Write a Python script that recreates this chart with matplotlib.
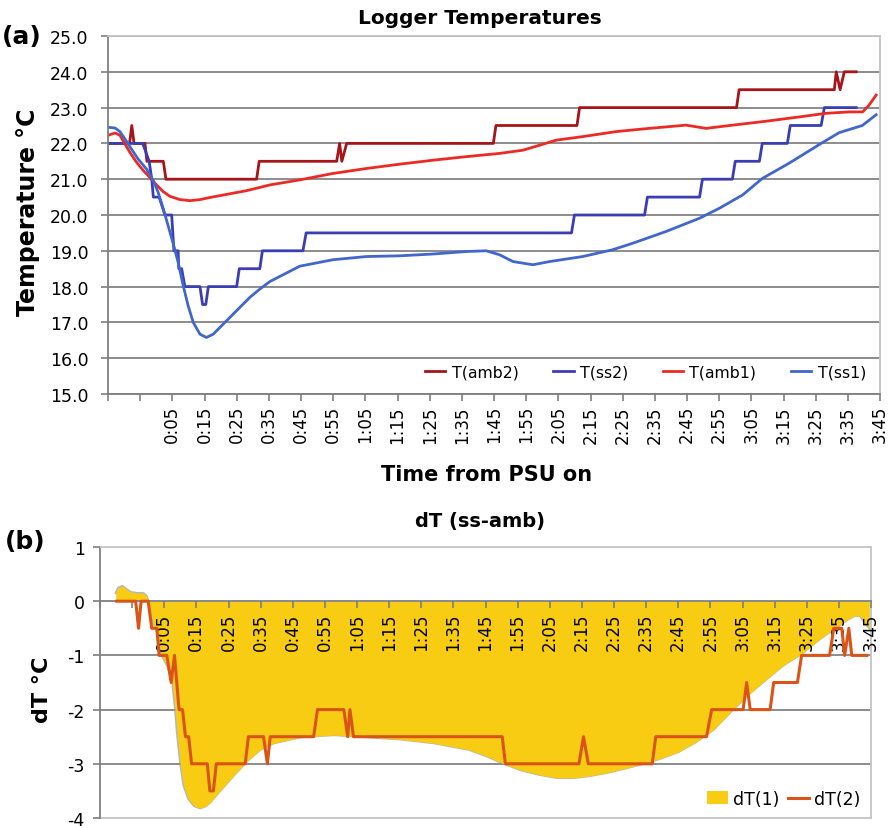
import matplotlib
matplotlib.use("Agg")
import matplotlib.pyplot as plt
from matplotlib.lines import Line2D
from matplotlib.patches import Patch

plt.rcParams['font.family'] = ['DejaVu Sans']
plt.rcParams['axes.unicode_minus'] = False

# ---------------- data (time in minutes from PSU on) ----------------
amb2_t = [-15, -8.3, -7.6, -6.9, -3.5, -2.9, 2.2, 3.0, 31.2, 32.0, 56.1, 57.0, 57.7, 59.2,
          104.8, 105.6, 130.8, 131.6, 180.4, 181.2, 210.8, 211.4, 212.6, 213.9, 217.6]
amb2_v = [22.0, 22.0, 22.5, 22.0, 22.0, 21.5, 21.5, 21.0, 21.0, 21.5, 21.5, 22.0, 21.5, 22.0,
          22.0, 22.5, 22.5, 23.0, 23.0, 23.5, 23.5, 24.0, 23.5, 24.0, 24.0]

ss2_t = [-15, -4.2, -2.2, -1.4, -0.9, 0.9, 2.7, 4.8, 5.5, 6.8, 7.0, 7.9, 8.9, 13.6, 14.4, 15.4,
         16.2, 25.0, 25.8, 32.2, 33.0, 45.6, 46.6, 129.1, 130.0, 151.8, 152.7, 168.9, 169.8,
         179.1, 180.0, 187.5, 188.4, 196.2, 197.1, 206.7, 207.7, 217.6]
ss2_v = [22.0, 22.0, 21.5, 21.0, 20.5, 20.5, 20.0, 20.0, 19.0, 19.0, 18.5, 18.5, 18.0, 18.0, 17.5, 17.5,
         18.0, 18.0, 18.5, 18.5, 19.0, 19.0, 19.5, 19.5, 20.0, 20.0, 20.5, 20.5, 21.0,
         21.0, 21.5, 21.5, 22.0, 22.0, 22.5, 22.5, 23.0, 23.0]

amb1_t = [-14.9, -12.8, -11.3, -9.7, -8.2, -6.1, -4.0, -2.0, 0.1, 2.2, 4.3, 7.4, 10.5, 13.6, 16.7,
          19.8, 23.9, 28.1, 32.2, 35.3, 44.6, 54.9, 65.4, 75.7, 86.0, 96.4, 106.7, 114.0, 119.2,
          124.3, 132.6, 143.0, 153.3, 164.7, 170.9, 179.2, 189.6, 199.9, 208.2, 215.4, 219.6,
          221.6, 223.8]
amb1_v = [22.23, 22.29, 22.23, 21.98, 21.75, 21.47, 21.24, 21.05, 20.84, 20.65, 20.52, 20.43, 20.40,
          20.43, 20.49, 20.54, 20.61, 20.68, 20.77, 20.84, 20.98, 21.16, 21.30, 21.42, 21.53, 21.63,
          21.72, 21.81, 21.95, 22.09, 22.19, 22.33, 22.42, 22.51, 22.42, 22.51, 22.62, 22.74, 22.84,
          22.88, 22.88, 23.07, 23.35]

ss1_t = [-14.9, -12.8, -11.3, -9.7, -7.7, -5.6, -3.0, -0.9, 0.6, 2.2, 3.7, 5.3, 6.8, 8.4, 9.9,
         11.5, 13.6, 15.6, 17.7, 19.8, 22.9, 26.0, 29.1, 32.2, 35.3, 44.6, 54.9, 65.4, 75.7, 86.0,
         96.4, 102.6, 106.7, 110.9, 117.1, 122.3, 132.6, 141.9, 148.1, 158.5, 168.9, 175.1, 182.3,
         188.4, 196.8, 206.7, 212.3, 219.5, 223.8]
ss1_v = [22.45, 22.43, 22.33, 22.12, 21.84, 21.56, 21.28, 20.96, 20.63, 20.17, 19.70, 19.19, 18.68,
         18.02, 17.47, 17.00, 16.67, 16.58, 16.67, 16.86, 17.14, 17.42, 17.70, 17.93, 18.14, 18.57,
         18.75, 18.84, 18.86, 18.91, 18.98, 19.00, 18.89, 18.70, 18.61, 18.70, 18.84, 19.03, 19.21,
         19.54, 19.91, 20.19, 20.56, 21.02, 21.45, 22.00, 22.30, 22.50, 22.80]

dT1_t = [-10.1, -9.3, -8.0, -6.7, -5.5, -3.5, -1.5, -0.5, 0.1, 1.5, 3.0, 4.2, 6.0, 7.5, 8.4, 9.0,
         10.0, 11.0, 12.5, 14.3, 16.2, 18.0, 19.5, 22.4, 26.6, 30.8, 34.9, 39.1, 47.4, 57.8, 68.2,
         78.6, 89.0, 99.8, 105.3, 110.7, 116.1, 121.6, 127.0, 132.5, 137.9, 143.3, 148.8, 154.2,
         159.7, 165.1, 170.5, 176.0, 181.4, 186.9, 192.3, 197.8, 203.4, 208.6, 213.8, 218.0, 220.0,
         221.6, 223.2, 224.5]
dT1_v = [0.15, 0.25, 0.28, 0.22, 0.17, 0.15, 0.15, 0.10, 0.0, -0.4, -0.6, -1.0, -1.2, -1.5, -2.0, -2.45,
         -3.0, -3.4, -3.65, -3.78, -3.82, -3.78, -3.70, -3.50, -3.22, -2.95, -2.74, -2.62, -2.51, -2.47,
         -2.51, -2.55, -2.62, -2.74, -2.86, -3.0, -3.12, -3.20, -3.26, -3.26, -3.22, -3.16, -3.08,
         -3.0, -2.90, -2.78, -2.60, -2.37, -2.04, -1.72, -1.45, -1.18, -0.97, -0.72, -0.50, -0.33,
         -0.27, -0.27, -0.42, -0.50]

dT2_t = [-9.8, -3.9, -3.0, -2.2, 0.0, 1.1, 2.7, 3.4, 5.8, 7.15, 8.2, 9.6, 10.7, 11.6, 12.6, 13.5,
         18.4, 19.2, 20.3, 21.2, 30.2, 31.2, 35.9, 37.1, 38.0, 51.5, 52.7, 60.9, 62.1, 62.8, 63.9,
         110.2, 111.2, 134.1, 135.5, 137.0, 156.9, 158.0, 173.8, 175.4, 185.2, 186.3, 187.4, 193.6,
         194.7, 202.1, 203.4, 212.1, 213.4, 215.9, 216.8, 218.1, 219.0, 223.7]
dT2_v = [0.0, 0.0, -0.5, 0.0, 0.0, -0.5, -0.5, -1.0, -1.0, -1.5, -1.0, -2.0, -2.0, -2.5, -2.5, -3.0,
         -3.0, -3.5, -3.5, -3.0, -3.0, -2.5, -2.5, -3.0, -2.5, -2.5, -2.0, -2.0, -2.5, -2.0, -2.5,
         -2.5, -3.0, -3.0, -2.5, -3.0, -3.0, -2.5, -2.5, -2.0, -2.0, -1.5, -2.0, -2.0,
         -1.5, -1.5, -1.0, -1.0, -0.5, -0.5, -1.0, -0.5, -1.0, -1.0]

tick_t = [-15, -5, 5, 15, 25, 35, 45, 55, 65, 75, 85, 95, 105, 115, 125, 135, 145, 155, 165,
          175, 185, 195, 205, 215, 225]
tick_lbl = ['', '', '0:05', '0:15', '0:25', '0:35', '0:45', '0:55', '1:05', '1:15', '1:25',
            '1:35', '1:45', '1:55', '2:05', '2:15', '2:25', '2:35', '2:45', '2:55', '3:05',
            '3:15', '3:25', '3:35', '3:45']
top_yticks = [15, 16, 17, 18, 19, 20, 21, 22, 23, 24, 25]
bot_yticks = [-4, -3, -2, -1, 0, 1]

C_AMB2 = '#A5151A'
C_SS2 = '#3A3DB3'
C_AMB1 = '#EC2A25'
C_SS1 = '#4267CC'
C_FILL = '#F8CC12'
C_LINE = '#DA5418'
AX_DARK = '#7f7f7f'
AX_LIGHT = '#c4c4c4'
GRID = '#8c8c8c'

W, H = 891, 829
fig = plt.figure(figsize=(W / 100, H / 100), dpi=100)

# ---------------- (a) ----------------
ax1 = fig.add_axes([108 / W, 1 - 395 / H, (880 - 108) / W, (395 - 37) / H])
ax1.set_xlim(-15, 225)
ax1.set_ylim(15, 25)
ax1.set_axisbelow(True)
ax1.yaxis.grid(True, color=GRID, lw=1.4)
ax1.plot(amb2_t, amb2_v, color=C_AMB2, lw=2.0, label='T(amb2)')
ax1.plot(ss2_t, ss2_v, color=C_SS2, lw=2.0, label='T(ss2)')
ax1.plot(amb1_t, amb1_v, color=C_AMB1, lw=2.0, label='T(amb1)')
ax1.plot(ss1_t, ss1_v, color=C_SS1, lw=2.0, label='T(ss1)')
ax1.set_yticks(top_yticks)
ax1.set_yticklabels([f'{v:.1f}' for v in top_yticks], fontsize=12.5)
ax1.set_xticks(tick_t)
ax1.set_xticklabels(tick_lbl, rotation=90, fontsize=12)
ax1.tick_params(axis='both', direction='out', length=5, color=AX_DARK, width=1.2)
ax1.tick_params(axis='y', pad=9)
ax1.tick_params(axis='x', pad=3)
for s in ['left', 'bottom']:
    ax1.spines[s].set_color(AX_DARK)
    ax1.spines[s].set_linewidth(1.3)
for s in ['top', 'right']:
    ax1.spines[s].set_color(AX_LIGHT)
    ax1.spines[s].set_linewidth(1.3)
ax1.legend(loc='lower right', ncol=4, frameon=False, fontsize=11.3, handlelength=1.3,
           handletextpad=0.4, columnspacing=2.2, borderaxespad=0.5)

fig.text(480 / W, 1 - 18 / H, 'Logger Temperatures', ha='center', va='center',
         fontsize=14.5, fontweight='bold')
fig.text(22 / W, 1 - 37 / H, '(a)', ha='center', va='center', fontsize=18, fontweight='bold')
fig.text(28 / W, 1 - 212 / H, 'Temperature °C', ha='center', va='center', rotation=90,
         fontsize=17, fontweight='bold')
fig.text(487 / W, 1 - 475 / H, 'Time from PSU on', ha='center', va='center',
         fontsize=15, fontweight='bold')

# ---------------- (b) ----------------
ax2 = fig.add_axes([100 / W, 1 - 819 / H, (871 - 100) / W, (819 - 548) / H])
ax2.set_xlim(-15, 225)
ax2.set_ylim(-4, 1)
for yv in [-1, -2, -3]:
    ax2.axhline(yv, color=GRID, lw=1.4, zorder=0.5)
ax2.axhline(-4, color=AX_LIGHT, lw=1.3, zorder=0.5, clip_on=False)
ax2.plot(dT1_t, dT1_v, color='#9a9a9a', lw=1.6, zorder=0.9, alpha=0.7)
ax2.fill_between(dT1_t, dT1_v, 0, color=C_FILL, lw=0, zorder=1, label='dT(1)')
ax2.plot(dT2_t, dT2_v, color=C_LINE, lw=2.2, zorder=3, label='dT(2)')
ax2.set_axisbelow(False)
ax2.spines['bottom'].set_position(('data', 0))
ax2.spines['bottom'].set_color(AX_DARK)
ax2.spines['bottom'].set_linewidth(1.3)
ax2.spines['left'].set_color(AX_DARK)
ax2.spines['left'].set_linewidth(1.3)
for s in ['top', 'right']:
    ax2.spines[s].set_color(AX_LIGHT)
    ax2.spines[s].set_linewidth(1.3)
ax2.set_yticks(bot_yticks)
ax2.set_yticklabels([str(v) for v in bot_yticks], fontsize=12.5)
ax2.set_xticks(tick_t)
ax2.set_xticklabels(tick_lbl, rotation=90, fontsize=12)
ax2.tick_params(axis='both', direction='out', length=5, color=AX_DARK, width=1.2)
ax2.tick_params(axis='y', pad=6)
ax2.tick_params(axis='x', pad=3)
handles = [Patch(facecolor=C_FILL, edgecolor='none'), Line2D([], [], color=C_LINE, lw=2.2)]
ax2.legend(handles, ['dT(1)', 'dT(2)'], loc='lower right', ncol=2, frameon=False,
           fontsize=12.5, handlelength=1.2, handletextpad=0.3, columnspacing=0.5,
           borderaxespad=0.2)

fig.text(480 / W, 1 - 522 / H, 'dT (ss-amb)', ha='center', va='center',
         fontsize=14, fontweight='bold')
fig.text(25 / W, 1 - 542 / H, '(b)', ha='center', va='center', fontsize=18, fontweight='bold')
fig.text(42 / W, 1 - 690 / H, 'dT °C', ha='center', va='center', rotation=90,
         fontsize=16, fontweight='bold')

fig.savefig('out.png', dpi=100)
